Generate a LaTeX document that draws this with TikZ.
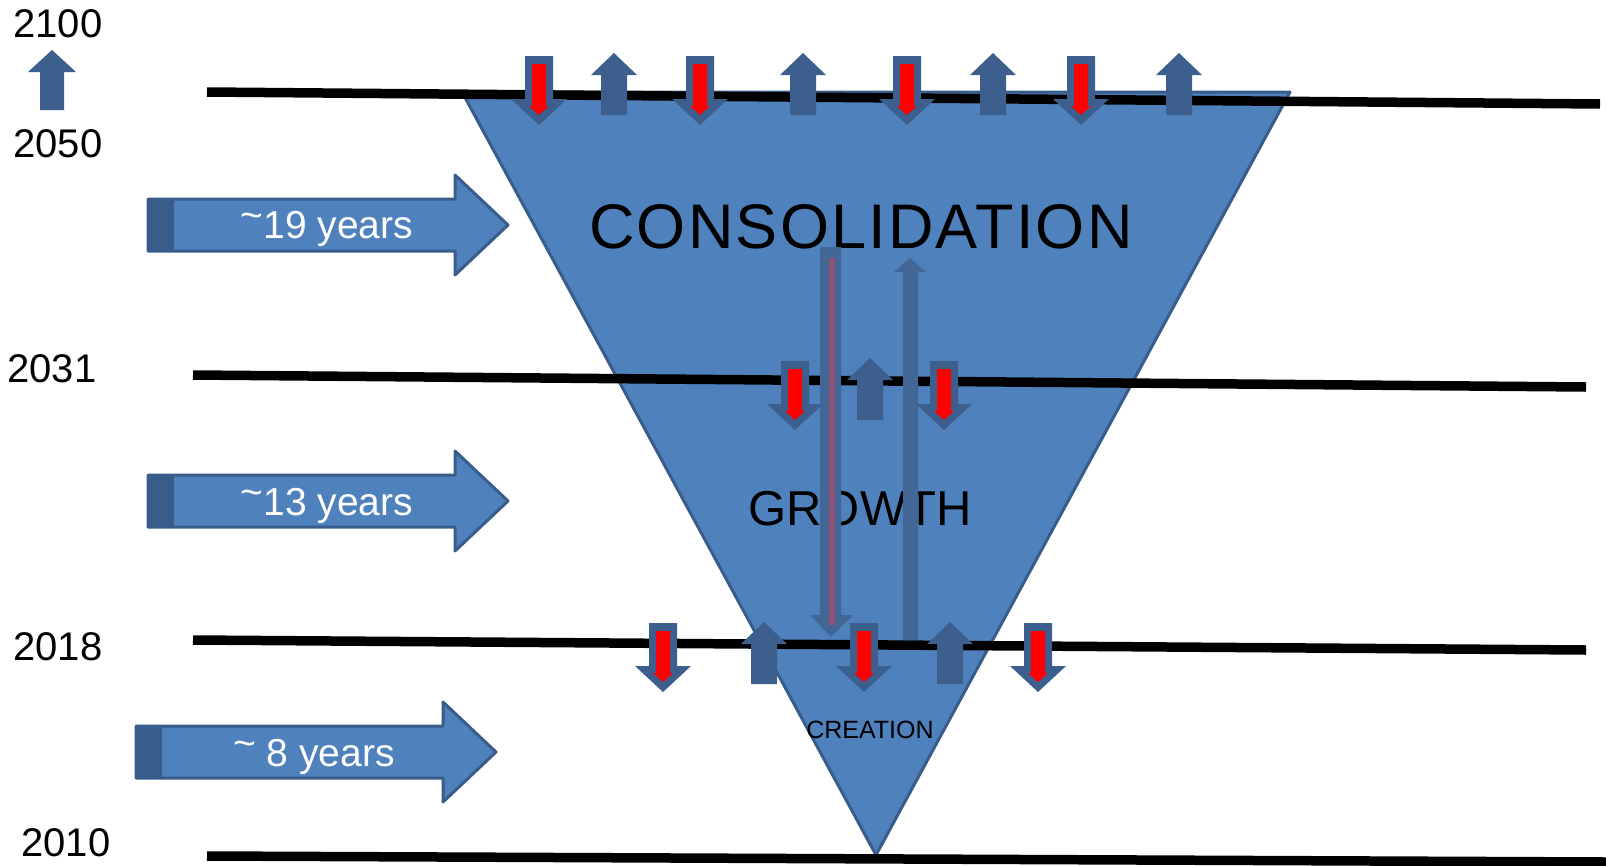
\documentclass[tikz,border=0pt]{standalone}
\usepackage{fontspec}
\setmainfont{Liberation Sans}
\newfontfamily\spacedfont[LetterSpace=3.5]{Liberation Sans}
\usepackage{tikz}
\usetikzlibrary{calc}
\definecolor{ufyrbd}{rgb}{0.31,0.506,0.741}
\definecolor{tyvdya}{rgb}{0.22,0.365,0.541}
\definecolor{tcvfyd}{rgb}{0.235,0.373,0.553}
\definecolor{uswxzw}{rgb}{0.259,0.404,0.588}
\definecolor{ffqqqq}{rgb}{1.,0.,0.}
\definecolor{yevsxu}{rgb}{0.557,0.322,0.455}
\tikzstyle{every node}=[inner sep=0pt,outer sep=0pt]
\tikzset{
  yearline/.style={line width=9.5pt,line cap=butt},
  yearlabel/.style={anchor=base,font=\fontsize{40}{40}\selectfont},
  spanlabel/.style={anchor=base,color=white,font=\fontsize{39}{39}\selectfont}
}
% small block arrows: #1 = x of axis, #2 = y of top end
\newcommand{\dnarr}[2]{%
  \fill[color=tcvfyd] (#1-14,#2) -- (#1+14,#2) -- (#1+14,#2+43) -- (#1+28,#2+43) -- (#1,#2+69) -- (#1-28,#2+43) -- (#1-14,#2+43) -- cycle;
  \fill[color=ffqqqq] (#1-7,#2+8) -- (#1+7,#2+8) -- (#1+7,#2+50) -- (#1+10,#2+50) -- (#1,#2+59) -- (#1-10,#2+50) -- (#1-7,#2+50) -- cycle;}
\newcommand{\uparr}[2]{%
  \fill[color=tcvfyd] (#1,#2) -- (#1+23,#2+22) -- (#1+13,#2+22) -- (#1+13,#2+62) -- (#1-13,#2+62) -- (#1-13,#2+22) -- (#1-23,#2+22) -- cycle;}
% wide arrows for the spans: #1 = left x, #2 = middle y
\newcommand{\spanarr}[2]{%
  \fill[color=ufyrbd] (#1,#2-26) -- (#1+307,#2-26) -- (#1+307,#2-50) -- (#1+360,#2) -- (#1+307,#2+50) -- (#1+307,#2+26) -- (#1,#2+26) -- cycle;
  \fill[color=tyvdya] (#1,#2-26) rectangle (#1+26,#2+26);
  \draw[line width=3pt,color=tyvdya] (#1,#2-26) -- (#1+307,#2-26) -- (#1+307,#2-50) -- (#1+360,#2) -- (#1+307,#2+50) -- (#1+307,#2+26) -- (#1,#2+26) -- cycle;}

\begin{document}
\begin{tikzpicture}[line cap=round,line join=round,x=1pt,y=-1pt]
\useasboundingbox (0,0) rectangle (1606,865);
\clip (0,0) rectangle (1606,865);
% funnel
\fill[color=ufyrbd] (462,92) -- (1290,92) -- (876,855) -- cycle;
\draw[line width=3pt,color=tyvdya] (462,92) -- (1290,92) -- (876,855) -- cycle;
% time lines
\draw[yearline] (207,92) -- (1600,104);
\draw[yearline] (193,375) -- (1586,387);
\draw[yearline] (193,640) -- (1586,650);
\draw[yearline] (207,856) -- (1606,862);
% years
\node[yearlabel] (yr2100) at (58,37) {2100};
\node[yearlabel] (yr2050) at (58,157) {2050};
\node[yearlabel] (yr2031) at (52,382) {2031};
\node[yearlabel] (yr2018) at (58,660) {2018};
\node[yearlabel] (yr2010) at (66,856) {2010};
\fill[color=tcvfyd] (52,50) -- (76,72) -- (64,72) -- (64,110) -- (40,110) -- (40,72) -- (28,72) -- cycle;
% spans
\spanarr{148}{225}
\spanarr{148}{501}
\spanarr{136}{752}
\node[spanlabel] (span19) at (327,238) {\raisebox{0.25em}{\textasciitilde}19 years};
\node[spanlabel] (span13) at (327,515) {\raisebox{0.25em}{\textasciitilde}13 years};
\node[spanlabel] (span8) at (314,766) {\raisebox{0.25em}{\textasciitilde} 8 years};
% phases
\node[anchor=base,font=\spacedfont\fontsize{63}{63}\selectfont] (consol) at (861,248) {CONSOLIDATION};
\node[anchor=base,font=\fontsize{49}{49}\selectfont] (growth) at (860,525) {GROWTH};
\node[anchor=base,font=\fontsize{25}{25}\selectfont] (creation) at (870,738) {CREATION};
% long arrows
\fill[color=uswxzw] (820,247) -- (841,247) -- (841,615) -- (853,615) -- (831,637) -- (810,615) -- (820,615) -- cycle;
\fill[color=yevsxu] (829,258) rectangle (835,625);
\fill[color=uswxzw] (910,258) -- (926,272) -- (918,272) -- (918,640) -- (903,640) -- (903,272) -- (894,272) -- cycle;
% small arrows
\dnarr{539}{56}
\uparr{614}{53}
\dnarr{700}{56}
\uparr{803}{53}
\dnarr{907}{56}
\uparr{993}{53}
\dnarr{1081}{56}
\uparr{1179}{53}
\dnarr{795}{361}
\uparr{870}{358}
\dnarr{944}{361}
\dnarr{663}{623}
\uparr{764}{622}
\dnarr{864}{623}
\uparr{950}{622}
\dnarr{1038}{623}
\end{tikzpicture}
\end{document}
